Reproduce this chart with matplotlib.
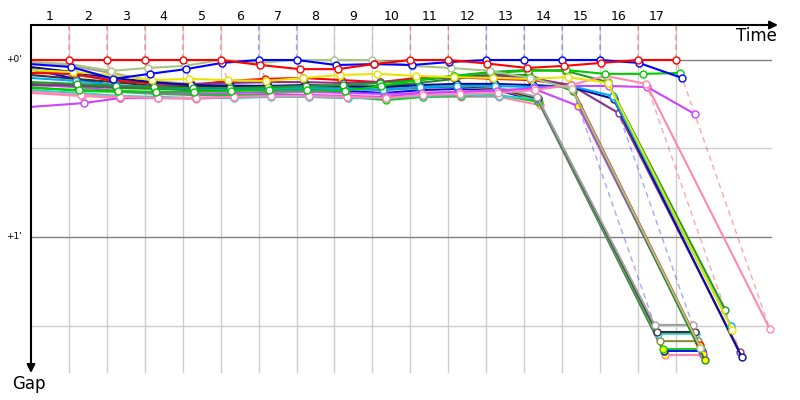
import matplotlib
matplotlib.use("Agg")
import matplotlib.pyplot as plt
from matplotlib.transforms import blended_transform_factory

# leader lap time in seconds (laps are evenly spaced along the time axis)
lap_time = 36.83
lap_labels = [str(n) for n in range(1, 18)]
gap_lines = [0, 30, 60, 90]
gap_labels = {0: "+0'", 60: "+1'"}

# gap to the leader (s) at the end of each lap, first value = the start
red_a = [0, 0, 0, 0, 0, 0, 1.7, 3.1, 3.1, 1.4, 0, 0, 1.2, 2.7, 2.0, 1.0, 0, 0]
blue_b = [1.4, 2.4, 6.4, 4.7, 3.1, 1.0, 0, 0, 1.7, 1.4, 1.7, 0.7, 0, 0, 0, 0, 1.0, 6.1]
olive_c = [0.7, 1.4, 3.7, 2.7, 2.0, 0, 1.0, 0, 0, 0, 2.0, 2.7, 3.7, 6.1, 9.8, 97.5]
yellow_y = [3.4, 4.1, 5.1, 6.8, 6.4, 6.8, 7.1, 6.1, 5.1, 4.7, 5.4, 5.8, 6.1, 6.4, 5.8, 7.8, 91.5]
green_g = [9.5, 10.2, 10.5, 10.8, 10.8, 10.5, 10.2, 10.2, 10.5, 8.8, 6.8, 5.4, 4.4, 3.7, 3.4, 4.7, 4.7, 4.4]
pink_p = [10.8, 11.9, 12.5, 12.9, 12.9, 12.5, 12.2, 12.2, 12.5, 12.9, 11.9, 11.5, 11.2, 10.2, 8.5, 5.4, 8.1, 91.2]
violet_v = [15.9, 14.6, 12.9, 12.9, 12.9, 12.5, 11.9, 11.9, 12.2, 12.5, 11.2, 10.8, 10.5, 9.5, 8.8, 8.8, 9.2, 18.3]
green_dark = [7.5, 8.1, 8.8, 9.2, 9.5, 9.5, 9.2, 8.8, 8.5, 7.8, 6.8, 5.4, 4.1, 3.4, 3.7, 7.5, 84.7]
cyan_b = [6.1, 7.1, 8.5, 9.2, 9.8, 9.8, 9.5, 9.5, 9.8, 10.2, 9.2, 8.8, 8.8, 9.2, 8.8, 12.2, 90.2]
navy_n = [2.4, 4.1, 6.1, 7.5, 8.5, 8.8, 8.8, 8.5, 8.8, 9.2, 8.5, 8.1, 8.1, 8.5, 9.2, 13.2, 100.7]
purple_u = [8.5, 8.5, 9.2, 8.8, 8.1, 7.8, 7.5, 7.5, 7.8, 7.5, 6.8, 5.8, 5.1, 6.1, 8.5, 18.0, 99.0]
red_r = [4.4, 4.7, 7.1, 7.8, 8.5, 7.1, 6.4, 6.1, 6.8, 7.5, 6.1, 5.8, 6.4, 6.8, 8.5, 96.6]
forest_f = [8.1, 8.8, 9.5, 9.8, 10.2, 10.2, 9.8, 9.5, 9.2, 8.8, 7.8, 6.4, 5.1, 5.1, 10.5, 101.7]
violet_w = [8.5, 9.2, 10.5, 11.2, 11.5, 11.2, 10.8, 10.8, 11.2, 11.5, 11.2, 10.8, 10.2, 9.8, 15.6, 99.5]
gray_e = [0.7, 2.0, 4.4, 7.1, 8.1, 8.5, 8.8, 8.8, 9.2, 9.5, 8.8, 8.5, 9.2, 12.5, 89.8, 89.8]
black_k = [5.1, 6.4, 7.5, 8.8, 9.2, 9.2, 8.8, 9.2, 9.5, 9.8, 9.2, 8.8, 9.5, 13.0, 92.2, 92.2]
cyan_c = [10.2, 11.2, 12.2, 12.5, 12.9, 12.9, 12.5, 12.5, 12.9, 12.9, 12.2, 11.9, 12.2, 13.2, 92.8, 92.8]
olive_o = [3.4, 5.1, 6.8, 8.1, 8.8, 9.2, 9.5, 9.5, 9.8, 10.2, 9.5, 9.2, 9.8, 13.6, 95.3, 95.3]
green_e = [9.2, 10.5, 10.8, 11.5, 11.9, 11.9, 11.5, 11.9, 12.5, 13.6, 12.5, 12.2, 11.9, 14.2, 98.0, 98.0]
blue_e = [3.1, 6.4, 8.8, 9.5, 10.2, 10.2, 9.8, 10.2, 10.5, 11.2, 10.2, 9.8, 10.2, 13.9, 98.6, 98.6]
pink_e = [11.2, 12.2, 12.9, 12.9, 13.2, 12.5, 12.2, 12.5, 12.9, 12.9, 12.5, 12.5, 12.5, 15.3, 100.0, 100.0]

car_gaps = [red_a, blue_b, olive_c, yellow_y, green_g, pink_p, violet_v,
            green_dark, cyan_b, navy_n, purple_u, red_r, forest_f, violet_w,
            gray_e, black_k, cyan_c, olive_o, green_e, blue_e, pink_e]
car_colors = ['#ff0000', '#0000ff', '#a8c484', '#e6e600', '#00cc00', '#ff88b0', '#cc44ff',
              '#229922', '#00aaee', '#0a0a9a', '#883388', '#ff0000', '#228b22', '#cc44ff',
              '#a0a0a0', '#333333', '#33cccc', '#8c8c3c', '#11cc11', '#0000ff', '#ff88b0']
car_fills = ['white', 'white', 'white', 'white', 'white', 'white', 'white',
             'white', 'white', 'white', 'white', 'yellow', 'yellow', 'yellow',
             'white', 'white', 'white', 'white', 'yellow', 'yellow', 'yellow']

# figure is 800x400 px, axes spans the arrows
fig = plt.figure(figsize=(8, 4), dpi=100)
ax = fig.add_axes([31 / 800, 27 / 400, 747 / 800, 348 / 400])
ax.set_xlim(0, 747 / 1.03)
ax.set_ylim(106.1, -11.86)
ax.axis('off')
top = ax.get_ylim()[1]
n_laps = len(lap_labels)

# grid
for n in range(1, n_laps + 1):
	ax.axvline(n * lap_time, color='#cccccc', lw=1, zorder=1)
for g in gap_lines:
	ax.axhline(g, xmax=0.9906, color='#808080' if g in gap_labels else '#cccccc', lw=1, zorder=1)
	if g in gap_labels:
		ax.text(-0.012, g, gap_labels[g], transform=blended_transform_factory(ax.transAxes, ax.transData),
			ha='right', va='center', fontsize=6.5)

# lap lines: leader crossing, then down through every car finishing that lap
for n in range(1, n_laps + 1):
	at_lap = [(i, g[n]) for i, g in enumerate(car_gaps) if len(g) > n]
	leader = min(at_lap, key=lambda p: p[1])[0]
	gmax = max(p[1] for p in at_lap)
	ax.plot([n * lap_time, n * lap_time, n * lap_time + gmax], [top, 0, gmax],
		ls=(0, (4, 3)), lw=1, color=car_colors[leader], alpha=0.35, zorder=2)

# cars, leader drawn last; everyone starts at time 0
for i in reversed(range(len(car_gaps))):
	gaps = car_gaps[i]
	xs = [n * lap_time + g if n > 0 else 0 for n, g in enumerate(gaps)]
	ax.plot(xs, gaps, color=car_colors[i], lw=1.5, zorder=3)
	ax.plot(xs[1:], gaps[1:], 'o', ms=5, mfc=car_fills[i], mec=car_colors[i], mew=1, zorder=3)

# lap numbers on top
for n, lab in enumerate(lap_labels, start=1):
	ax.text((n - 0.5) * lap_time, 1.023, lab, transform=ax.get_xaxis_transform(),
		ha='center', va='center', fontsize=9)

# axis arrows
arrow = dict(arrowstyle='-|>', color='k', lw=1.5, mutation_scale=12, shrinkA=0, shrinkB=0)
ax.annotate('', xy=(1, 1), xytext=(0, 1), xycoords='axes fraction', arrowprops=arrow, annotation_clip=False)
ax.annotate('', xy=(0, 0), xytext=(0, 1), xycoords='axes fraction', arrowprops=arrow, annotation_clip=False)

fig.text(777 / 800, 1 - 36 / 400, 'Time', ha='right', va='center', fontsize=12)
fig.text(12 / 800, 1 - 384 / 400, 'Gap', ha='left', va='center', fontsize=12)

fig.savefig('out.png', dpi=100)
